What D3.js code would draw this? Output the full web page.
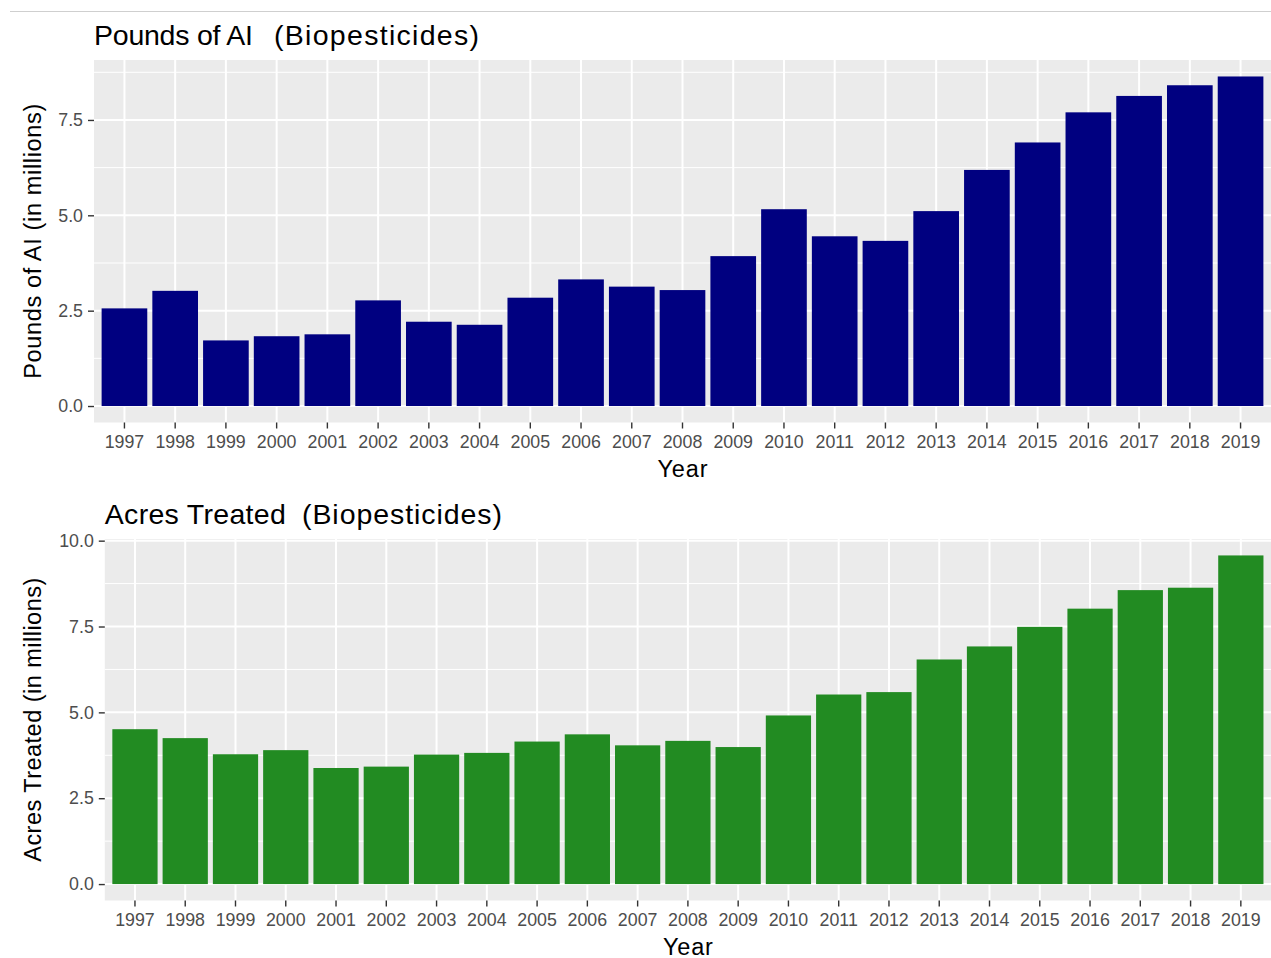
<!DOCTYPE html>
<html>
<head>
<meta charset="utf-8">
<script src="https://cdn.jsdelivr.net/npm/d3@7"></script>
<style>
  body { margin: 0; background: #fff; }
  svg { display: block; font-family: "Liberation Sans", Arial, sans-serif; }
</style>
</head>
<body>
<svg id="chart"></svg>
<script>
// data (millions)
const years = ["1997","1998","1999","2000","2001","2002","2003","2004","2005","2006","2007","2008",
  "2009","2010","2011","2012","2013","2014","2015","2016","2017","2018","2019"]
const poundsAI = [2.56, 3.02, 1.72, 1.83, 1.88, 2.77, 2.21, 2.13, 2.84, 3.32, 3.13, 3.04,
  3.93, 5.16, 4.45, 4.33, 5.11, 6.19, 6.91, 7.70, 8.13, 8.41, 8.64]
const acresTreated = [4.51, 4.25, 3.78, 3.90, 3.38, 3.42, 3.77, 3.82, 4.15, 4.36, 4.04, 4.17,
  3.99, 4.91, 5.52, 5.59, 6.54, 6.92, 7.49, 8.02, 8.56, 8.63, 9.57]
const poundsTicks = [0, 2.5, 5, 7.5]
const acresTicks = [0, 2.5, 5, 7.5, 10]

const W = 1271, H = 958
const svg = d3.select("#chart").attr("width", W).attr("height", H)

// thin rule along the top
svg.append("line")
  .attr("x1", 10).attr("x2", W).attr("y1", 11.5).attr("y2", 11.5)
  .attr("stroke", "#cfcfcf").attr("stroke-width", 1)

function drawPanel(opts) {
  const {values, ticks, left, top, bottom, color, title1, title2, t1len, t2x, t2len, ylab, ylen} = opts
  const right = W
  const maxV = d3.max(values)

  let x = d3.scaleBand()//ggplot style: 0.6 step on each side, bars 0.9 wide
    .domain(years)
    .range([left, right])
    .paddingInner(0.1)
    .paddingOuter(0.15)
  let y = d3.scaleLinear()
    .domain([-0.05*maxV, 1.05*maxV])
    .range([bottom, top])

  const g = svg.append("g")

  g.append("rect")
    .attr("x", left).attr("y", top)
    .attr("width", right-left).attr("height", bottom-top)
    .attr("fill", "#ebebeb")

  // minor gridlines halfway between major ticks
  const minor = d3.range(ticks.length-1).map(i => (ticks[i]+ticks[i+1])/2)
    .concat([ticks[ticks.length-1] + (ticks[1]-ticks[0])/2])
    .filter(v => y(v) > top)
  g.selectAll(".minor").data(minor).join("line")
    .attr("x1", left).attr("x2", right)
    .attr("y1", d => y(d)).attr("y2", d => y(d))
    .attr("stroke", "#fff").attr("stroke-width", 1)

  g.selectAll(".hmajor").data(ticks).join("line")
    .attr("x1", left).attr("x2", right)
    .attr("y1", d => y(d)).attr("y2", d => y(d))
    .attr("stroke", "#fff").attr("stroke-width", 2)

  g.selectAll(".vmajor").data(years).join("line")
    .attr("x1", d => x(d)+x.bandwidth()/2).attr("x2", d => x(d)+x.bandwidth()/2)
    .attr("y1", top).attr("y2", bottom)
    .attr("stroke", "#fff").attr("stroke-width", 2)

  g.selectAll(".bar").data(values).join("rect")
    .attr("x", (d, i) => x(years[i]))
    .attr("width", x.bandwidth())
    .attr("y", d => y(d))
    .attr("height", d => y(0) - y(d))
    .attr("fill", color)

  // axes
  let yAxis = d3.axisLeft(y).tickValues(ticks).tickFormat(d3.format(".1f"))
    .tickSize(6).tickPadding(5)
  let ya = g.append("g").attr("transform", "translate(" + left + ",0)").call(yAxis)
  let xAxis = d3.axisBottom(x).tickSize(6).tickPadding(4)
  let xa = g.append("g").attr("transform", "translate(0," + bottom + ")").call(xAxis)
  for (const a of [ya, xa]) {
    a.select(".domain").remove()
    a.selectAll(".tick line").attr("stroke", "#333").attr("stroke-width", 1.4)
    a.selectAll(".tick text").attr("fill", "#4d4d4d").style("font-size", "17.8px")
      .style("font-family", "Liberation Sans, Arial, sans-serif")
  }
  xa.selectAll(".tick text").attr("dy", null).attr("y", 25.5)

  // titles (the original renders wider than Liberation, so pin the lengths)
  const t = g.append("text")
    .attr("y", top - 15)
    .style("font-size", "28.5px").attr("fill", "#000")
  t.append("tspan").attr("x", left).attr("textLength", t1len).text(title1)
  t.append("tspan").attr("x", t2x).attr("textLength", t2len).text(title2)

  g.append("text")
    .attr("x", (left+right)/2).attr("y", bottom + 54)
    .attr("text-anchor", "middle")
    .attr("textLength", 50)
    .style("font-size", "23.5px").attr("fill", "#000")
    .text("Year")

  g.append("text")
    .attr("transform", "translate(41," + ((top+bottom)/2) + ") rotate(-90)")
    .attr("text-anchor", "middle")
    .attr("textLength", ylen)
    .style("font-size", "23.5px").attr("fill", "#000")
    .text(ylab)
}

drawPanel({values: poundsAI, ticks: poundsTicks, left: 94, top: 60, bottom: 422.5,
  color: "#000080", title1: "Pounds of AI", title2: "(Biopesticides)",
  t1len: 159, t2x: 274, t2len: 205,
  ylab: "Pounds of AI (in millions)", ylen: 275})

drawPanel({values: acresTreated, ticks: acresTicks, left: 104.8, top: 539, bottom: 900.5,
  color: "#228b22", title1: "Acres Treated", title2: "(Biopesticides)",
  t1len: 181, t2x: 302, t2len: 200,
  ylab: "Acres Treated (in millions)", ylen: 284})
</script>
</body>
</html>
